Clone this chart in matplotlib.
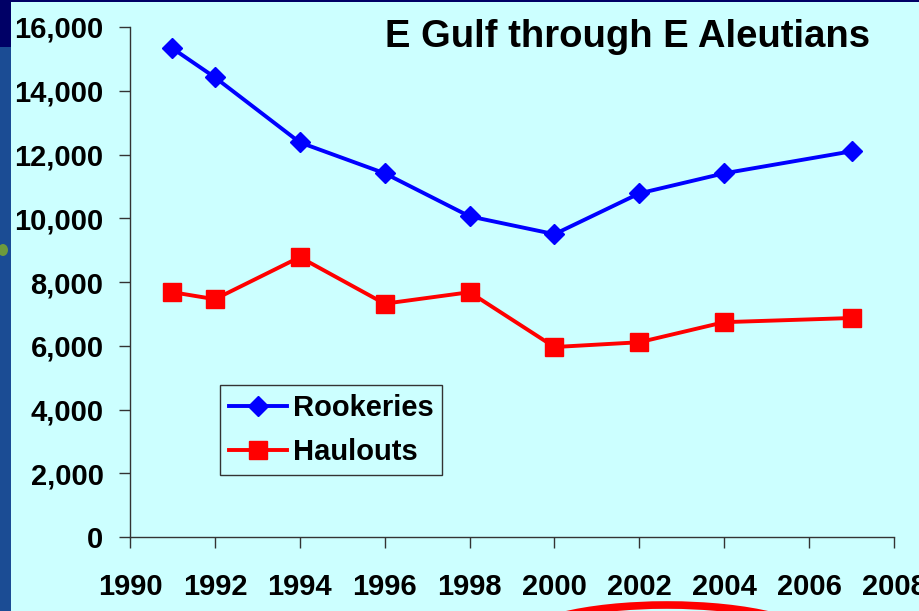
import matplotlib.pyplot as plt
from matplotlib.patches import Rectangle, Arc, Ellipse
from matplotlib.ticker import FuncFormatter

plt.rcParams['font.family'] = ['Liberation Sans', 'DejaVu Sans']

years_rook = [1991, 1992, 1994, 1996, 1998, 2000, 2002, 2004, 2007]
rookeries = [15330, 14420, 12380, 11410, 10060, 9500, 10780, 11410, 12100]
years_haul = [1991, 1992, 1994, 1996, 1998, 2000, 2002, 2004, 2007]
haulouts = [7680, 7460, 8780, 7320, 7680, 5960, 6110, 6740, 6870]
xticks = list(range(1990, 2009, 2))
yticks = list(range(0, 16001, 2000))
title = "E Gulf through E Aleutians"

W, H = 920, 611
bg = "#CCFFFF"
fig = plt.figure(figsize=(9.2, 6.11), dpi=100, facecolor=bg)

# slide decoration: blue strip on the left, navy top edge, red arc at bottom
fig.patches.append(Rectangle((0, 0), 11/W, 1, transform=fig.transFigure,
                             facecolor="#1B4C94", edgecolor="none", zorder=0))
fig.patches.append(Rectangle((0, 1-47/H), 11/W, 47/H, transform=fig.transFigure,
                             facecolor="#000066", edgecolor="none", zorder=0))
fig.patches.append(Rectangle((0, 1-2/H), 1, 2/H, transform=fig.transFigure,
                             facecolor="#000066", edgecolor="none", zorder=0))
fig.patches.append(Ellipse((3/W, 1-250/H), 10/W, 12/H, transform=fig.transFigure,
                           facecolor="#6E9A3C", edgecolor="none", zorder=0))
fig.patches.append(Arc((667/W, 1-643/H), 300/W, 76/H, theta1=0, theta2=180,
                       transform=fig.transFigure, color="red", lw=5.5, zorder=0))

ax = fig.add_axes([130/W, 1-537/H, 764/W, 510/H])
ax.set_facecolor(bg)
ax.patch.set_alpha(0)

ax.plot(years_rook, rookeries, color="#0000FF", lw=2.8, marker="D", markersize=10.5,
        label="Rookeries")
ax.plot(years_haul, haulouts, color="#FF0000", lw=2.8, marker="s", markersize=12.5,
        label="Haulouts")

ax.set_xlim(1990, 2008)
ax.set_ylim(0, 16000)
ax.set_xticks(xticks)
ax.set_yticks(yticks)
ax.yaxis.set_major_formatter(FuncFormatter(lambda v, p: f"{int(v):,}"))

for s in ["top", "right"]:
    ax.spines[s].set_visible(False)
for s in ["left", "bottom"]:
    ax.spines[s].set_color("#333333")
    ax.spines[s].set_linewidth(1)
ax.tick_params(axis="both", direction="out", length=8, width=1, color="#333333",
               labelsize=21)
ax.tick_params(axis="x", pad=18)
ax.tick_params(axis="y", pad=11)
for lab in ax.get_xticklabels() + ax.get_yticklabels():
    lab.set_fontweight("bold")

ax.text(870/W, 1-37/H, title, transform=fig.transFigure, ha="right", va="center",
        fontsize=27.5, fontweight="bold")

leg = ax.legend(loc="lower left", bbox_to_anchor=((220-130)/764, (537-475)/510),
                frameon=True, fancybox=False, edgecolor="#333333", facecolor=bg,
                framealpha=1, prop={"weight": "bold", "size": 21},
                handlelength=2.0, borderpad=0.3, labelspacing=0.56, handletextpad=0.2,
                borderaxespad=0)
leg.get_frame().set_linewidth(1)

fig.savefig("out.png", dpi=100, facecolor=bg)
